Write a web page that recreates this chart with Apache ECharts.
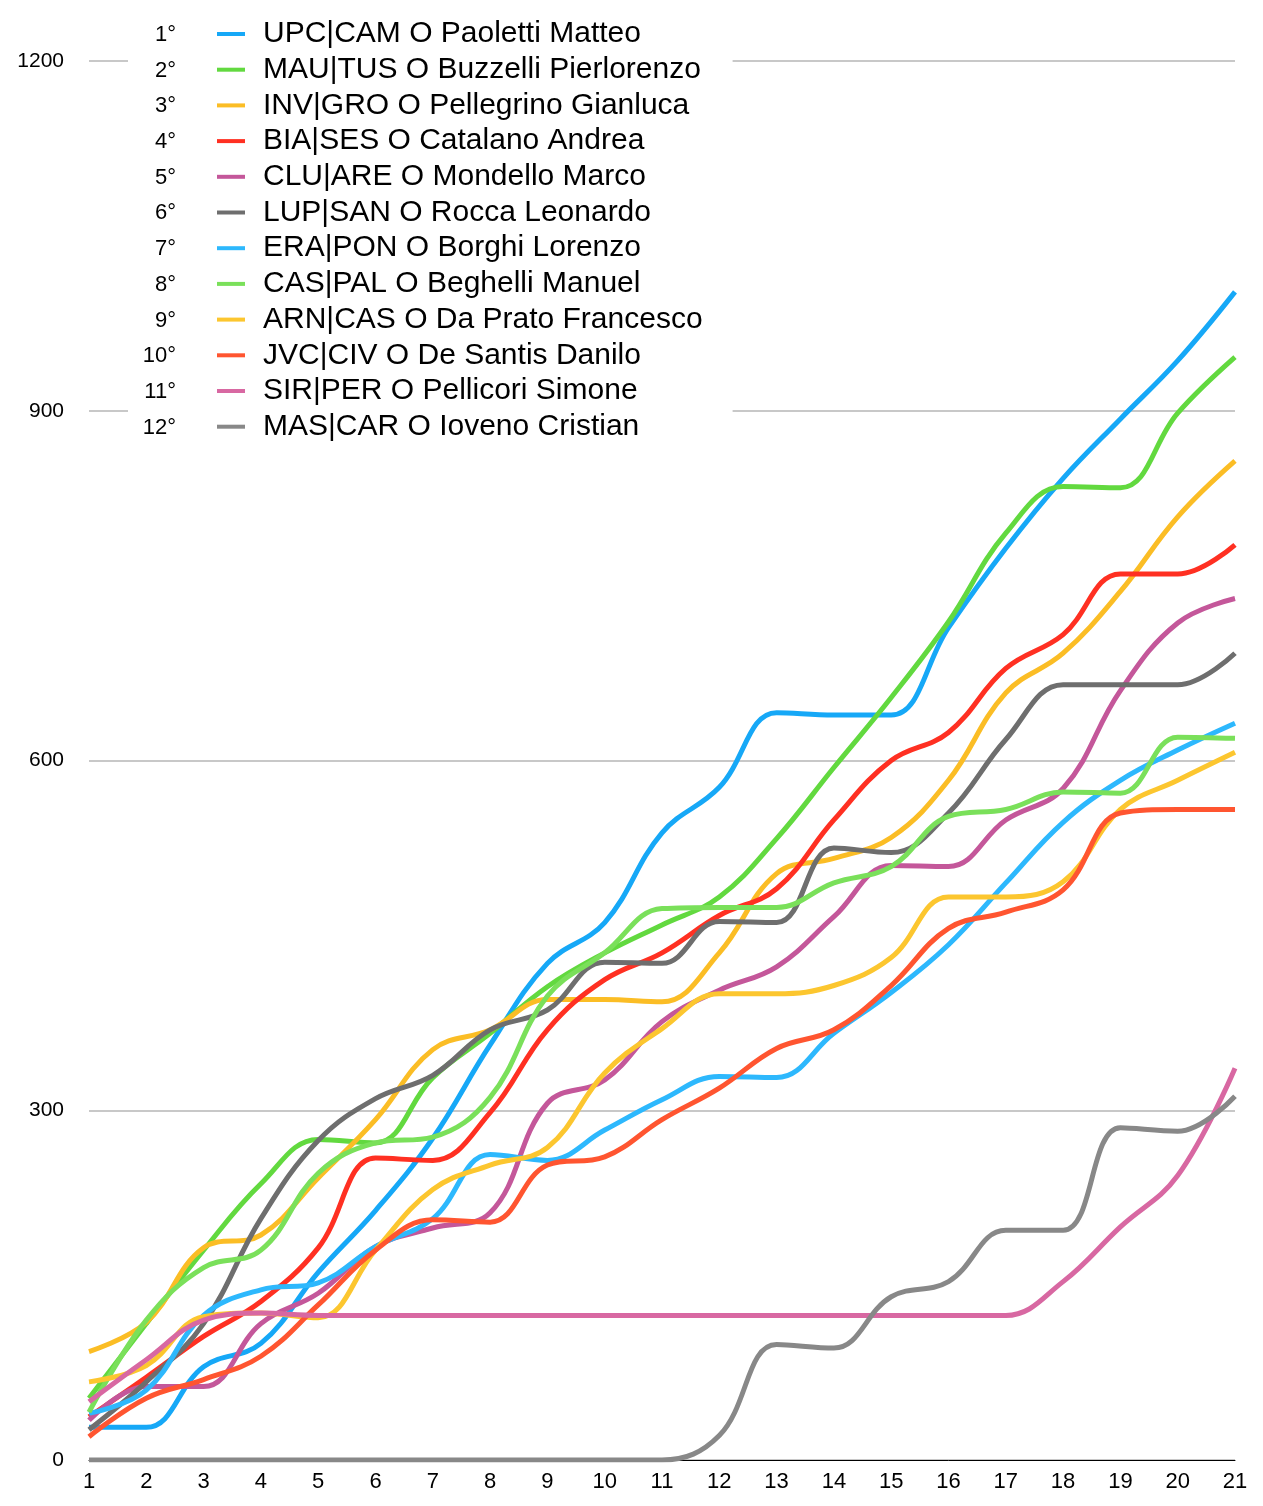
<!DOCTYPE html>
<html>
<head>
<meta charset="utf-8">
<title>Classifica</title>
<script src="https://cdn.jsdelivr.net/npm/echarts@6/dist/echarts.min.js"></script>
<style>
  html, body { margin: 0; padding: 0; background: #fff; }
  #chart { width: 1263px; height: 1506px; }
</style>
</head>
<body>
<div id="chart"></div>
<script>
// categories (giornate)
var days = ['1','2','3','4','5','6','7','8','9','10','11','12','13','14','15','16','17','18','19','20','21'];

// ranks shown left of the legend
var ranks = ['1°','2°','3°','4°','5°','6°','7°','8°','9°','10°','11°','12°'];

var names = [
  'UPC|CAM O Paoletti Matteo',
  'MAU|TUS O Buzzelli Pierlorenzo',
  'INV|GRO O Pellegrino Gianluca',
  'BIA|SES O Catalano Andrea',
  'CLU|ARE O Mondello Marco',
  'LUP|SAN O Rocca Leonardo',
  'ERA|PON O Borghi Lorenzo',
  'CAS|PAL O Beghelli Manuel',
  'ARN|CAS O Da Prato Francesco',
  'JVC|CIV O De Santis Danilo',
  'SIR|PER O Pellicori Simone',
  'MAS|CAR O Ioveno Cristian'
];

var colors = ['#16A8F7','#62D93F','#FBBD25','#FF3022','#C4579A','#6E6E6E',
              '#2DB8FD','#7AE05A','#FCC62F','#FF5530','#D868A2','#888888'];

// points per day, one array per team
var upcCam = [28, 28, 80, 100, 161, 214, 276, 356, 426, 461, 538, 577, 641, 639, 639, 714, 782, 842, 893, 943, 1002];
var mauTus = [53, 117, 180, 237, 275, 272, 328, 366, 406, 435, 459, 483, 533, 594, 654, 719, 795, 835, 834, 898, 946];
var invGro = [93, 118, 182, 193, 242, 292, 352, 369, 395, 395, 393, 435, 503, 516, 534, 583, 658, 692, 745, 809, 857];
var biaSes = [37, 71, 106, 136, 182, 259, 257, 298, 369, 412, 435, 467, 490, 549, 600, 624, 679, 708, 760, 760, 785];
var cluAre = [34, 63, 63, 117, 143, 183, 199, 212, 306, 326, 376, 403, 423, 466, 510, 509, 549, 576, 660, 718, 739];
var lupSan = [26, 67, 117, 207, 274, 310, 330, 369, 386, 427, 426, 462, 461, 525, 521, 555, 618, 665, 665, 665, 692];
var eraPon = [40, 60, 124, 146, 152, 183, 207, 262, 257, 283, 309, 329, 328, 366, 401, 442, 495, 547, 583, 609, 632];
var casPal = [41, 120, 165, 180, 246, 272, 277, 311, 398, 435, 473, 474, 474, 495, 509, 552, 558, 573, 572, 620, 619];
var arnCas = [67, 81, 123, 126, 122, 180, 232, 253, 268, 332, 370, 400, 400, 407, 431, 483, 483, 496, 558, 583, 607];
var jvcCiv = [20, 53, 69, 89, 133, 180, 206, 204, 253, 260, 292, 319, 353, 369, 407, 456, 470, 489, 555, 558, 558];
var sirPer = [50, 86, 120, 126, 124, 124, 124, 124, 124, 124, 124, 124, 124, 124, 124, 124, 124, 153, 200, 244, 336];
var masCar = [0, 0, 0, 0, 0, 0, 0, 0, 0, 0, 0, 21, 99, 96, 140, 153, 197, 197, 285, 282, 312];

var allData = [upcCam, mauTus, invGro, biaSes, cluAre, lupSan, eraPon, casPal, arnCas, jvcCiv, sirPer, masCar];

var font = "'Liberation Sans', Arial, Helvetica, sans-serif";

var series = [];
for (var i = 0; i < names.length; i++) {
    series.push({
        name: names[i],
        type: 'line',
        data: allData[i],
        smooth: 0.4,
        showSymbol: false,
        symbol: 'none',
        color: colors[i],
        lineStyle: { width: 5, color: colors[i] }
    });
}

// legend row layout
var rowTop = 17;
var rowH = 35.7;

var rankTexts = [];
for (var r = 0; r < ranks.length; r++) {
    rankTexts.push({
        type: 'text',
        z: 100,
        x: 176,
        y: rowTop + rowH / 2 + r * rowH,
        style: {
            text: ranks[r],
            align: 'right',
            verticalAlign: 'middle',
            font: '22px ' + font,
            fill: '#000'
        }
    });
}

var chart = echarts.init(document.getElementById('chart'));
chart.setOption({
    animation: false,
    backgroundColor: '#fff',
    color: colors,
    grid: { left: 89, right: 28, top: 61, bottom: 46, containLabel: false },
    legend: {
        orient: 'vertical',
        left: 128,
        top: 0,
        padding: [rowTop, 30, 10, 89],
        backgroundColor: '#fff',
        itemWidth: 28,
        itemHeight: 4,
        itemGap: 1.7,
        icon: 'rect',
        selectedMode: false,
        textStyle: {
            fontSize: 30,
            lineHeight: 34,
            color: '#000',
            fontFamily: font,
            padding: [0, 0, 0, 13]
        },
        data: names
    },
    graphic: rankTexts,
    xAxis: {
        type: 'category',
        data: days,
        boundaryGap: false,
        axisLine: { show: true, lineStyle: { color: '#000', width: 1 } },
        axisTick: { show: false },
        axisLabel: { color: '#000', fontSize: 22, fontFamily: font, margin: 11 },
        splitLine: { show: false }
    },
    yAxis: {
        type: 'value',
        min: 0,
        max: 1200,
        interval: 300,
        axisLine: { show: false },
        axisTick: { show: false },
        axisLabel: {
            color: '#000', fontSize: 21, fontFamily: font, margin: 25,
            formatter: function (v) { return String(v); }
        },
        splitLine: { lineStyle: { color: '#c8c8c8', width: 2 } }
    },
    series: series
});
</script>
</body>
</html>
